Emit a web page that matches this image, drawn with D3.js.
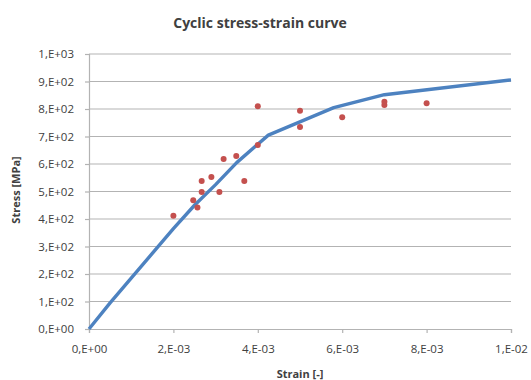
<!DOCTYPE html>
<html>
<head>
<meta charset="utf-8">
<script src="https://cdn.jsdelivr.net/npm/d3@7"></script>
<style>
  body { margin: 0; background: #fff; }
  text { font-family: "Open Sans", "Liberation Sans", sans-serif; fill: #404040; }
</style>
</head>
<body>
<div id="chart"></div>
<script>
// cyclic curve (blue line)
const curveStrain = [0, 0.0005, 0.001, 0.0015, 0.002, 0.0025, 0.003, 0.0035, 0.00425, 0.0058, 0.007, 0.01];
const curveStress = [0, 95, 185, 275, 365, 450, 525, 605, 705, 805, 852, 906];

// measured points (red dots)
const testStrain = [0.002, 0.00247, 0.00257, 0.00267, 0.00267, 0.0029, 0.00309, 0.00319, 0.00349, 0.00368, 0.004, 0.004, 0.005, 0.005, 0.006, 0.007, 0.007, 0.008];
const testStress = [412, 468, 442, 538, 498, 553, 498, 618, 629, 538, 810, 669, 794, 735, 770, 815, 826, 821];

const xTicks = [0, 0.002, 0.004, 0.006, 0.008, 0.01];
const yTicks = [0, 100, 200, 300, 400, 500, 600, 700, 800, 900, 1000];

const width = 531, height = 380;
const margin = {top: 54, right: 20, bottom: 51, left: 89};

// excel style "2,E-03"
function sciFmt(v){
    if(v === 0) return "0,E+00";
    const e = Math.floor(Math.log10(v) + 1e-9);
    const m = Math.round(v / Math.pow(10, e));
    const sign = e < 0 ? "-" : "+";
    return m + ",E" + sign + String(Math.abs(e)).padStart(2, "0");
}

const svg = d3.select("#chart").append("svg")
    .attr("width", width)
    .attr("height", height);

const x = d3.scaleLinear().domain([0, 0.01]).range([margin.left, width - margin.right]);
const y = d3.scaleLinear().domain([0, 1000]).range([height - margin.bottom, margin.top]);

// horizontal gridlines
svg.append("g")
    .selectAll("line")
    .data(yTicks.filter(d => d > 0))
    .join("line")
    .attr("x1", margin.left)
    .attr("x2", width - margin.right)
    .attr("y1", d => y(d))
    .attr("y2", d => y(d))
    .attr("stroke", "#b3b3b3")
    .attr("stroke-width", 1.2);

// y axis
const yAxis = svg.append("g")
    .attr("transform", `translate(${margin.left},0)`)
    .call(d3.axisLeft(y).tickValues(yTicks).tickFormat(sciFmt).tickSize(4).tickPadding(11));
yAxis.select(".domain").attr("stroke", "#b3b3b3").attr("stroke-width", 1.2);
yAxis.selectAll(".tick line").attr("stroke", "#b3b3b3").attr("stroke-width", 1.2);
yAxis.selectAll(".tick text").attr("font-size", 11.5).attr("fill", "#404040");

// x axis
const xAxis = svg.append("g")
    .attr("transform", `translate(0,${height - margin.bottom})`)
    .call(d3.axisBottom(x).tickValues(xTicks).tickFormat(sciFmt).tickSize(4).tickPadding(12));
xAxis.select(".domain").attr("stroke", "#b3b3b3").attr("stroke-width", 1.2);
xAxis.selectAll(".tick line").attr("stroke", "#b3b3b3").attr("stroke-width", 1.2);
xAxis.selectAll(".tick text").attr("font-size", 11.5).attr("fill", "#404040");

// curve
const curve = curveStrain.map((s, i) => ({s: s, f: curveStress[i]}));
svg.append("path")
    .datum(curve)
    .attr("fill", "none")
    .attr("stroke", "#4d82c0")
    .attr("stroke-width", 3.4)
    .attr("stroke-linejoin", "round")
    .attr("d", d3.line().x(d => x(d.s)).y(d => y(d.f)));

// test points
const pts = testStrain.map((s, i) => ({s: s, f: testStress[i]}));
svg.append("g")
    .selectAll("circle")
    .data(pts)
    .join("circle")
    .attr("cx", d => x(d.s))
    .attr("cy", d => y(d.f))
    .attr("r", 3)
    .attr("fill", "#c4504e");

// titles
svg.append("text")
    .attr("x", 260)
    .attr("y", 28)
    .attr("text-anchor", "middle")
    .attr("font-size", 14)
    .attr("font-weight", "bold")
    .text("Cyclic stress-strain curve");

svg.append("text")
    .attr("x", 300)
    .attr("y", 378)
    .attr("text-anchor", "middle")
    .attr("font-size", 11)
    .attr("font-weight", "bold")
    .text("Strain [-]");

svg.append("text")
    .attr("transform", "translate(20,190) rotate(-90)")
    .attr("text-anchor", "middle")
    .attr("font-size", 11)
    .attr("font-weight", "bold")
    .text("Stress [MPa]");
</script>
</body>
</html>
